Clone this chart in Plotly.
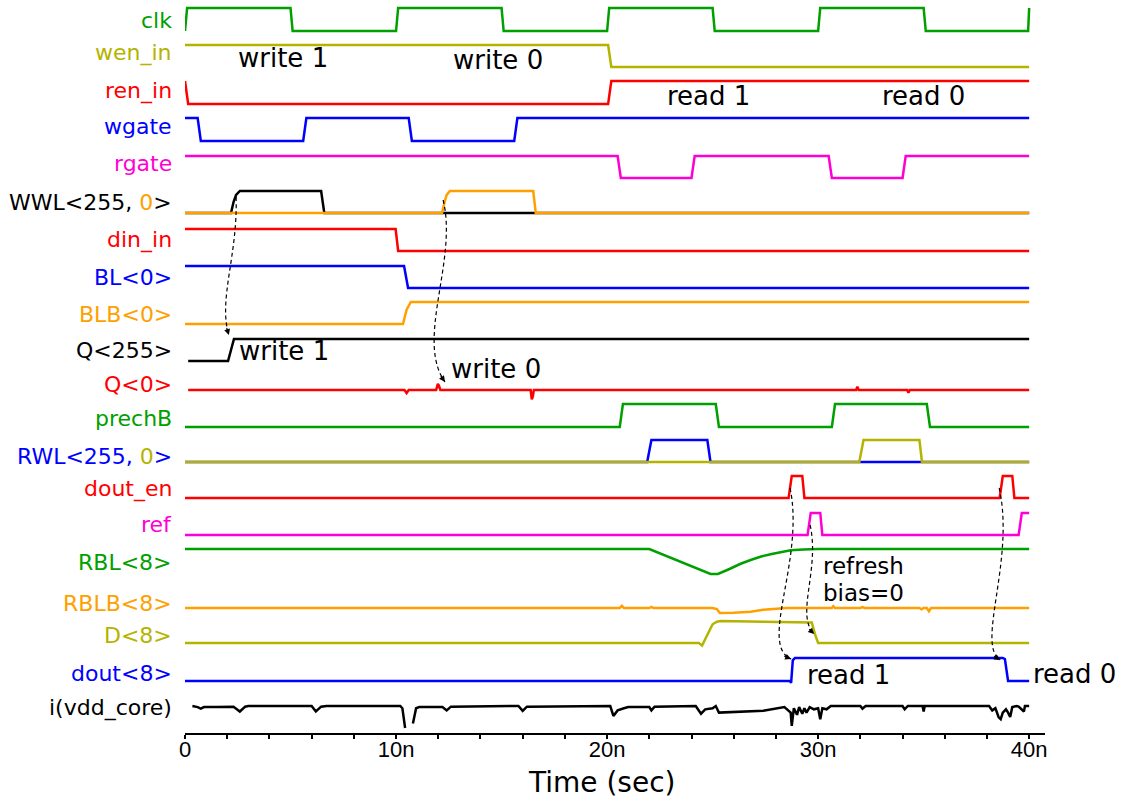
import plotly.graph_objects as go

# ---------------- data (time in ns, level: 0 = low, 1 = high) ----------------
clk = [(0, 0), (0.1, 1), (5.0, 1), (5.1, 0), (10.0, 0), (10.1, 1), (15.0, 1), (15.1, 0),
       (20.0, 0), (20.1, 1), (25.0, 1), (25.1, 0), (30.0, 0), (30.1, 1), (35.0, 1),
       (35.1, 0), (39.95, 0), (40.0, 1)]
wen_in = [(0, 1), (20.05, 1), (20.2, 0), (40, 0)]
ren_in = [(0, 1), (0.15, 0), (20.05, 0), (20.2, 1), (40, 1)]
wgate = [(0, 1), (0.6, 1), (0.75, 0), (5.6, 0), (5.75, 1), (10.6, 1), (10.75, 0),
         (15.6, 0), (15.75, 1), (40, 1)]
rgate = [(0, 1), (20.5, 1), (20.65, 0), (24.0, 0), (24.15, 1), (30.5, 1), (30.65, 0),
         (34.0, 0), (34.15, 1), (40, 1)]
wwl_255 = [(0, 0), (2.18, 0), (2.3, 0.5), (2.42, 0.82), (2.6, 1), (6.45, 1), (6.6, 0), (40, 0)]
wwl_0 = [(0, 0), (12.18, 0), (12.3, 0.5), (12.4, 0.82), (12.55, 1), (16.5, 1), (16.62, 0), (40, 0)]
din_in = [(0, 1), (9.98, 1), (10.1, 0), (40, 0)]
bl_0 = [(0, 1), (10.38, 1), (10.57, 0), (40, 0)]
blb_0 = [(0, 0), (10.33, 0), (10.5, 0.65), (10.7, 1), (40, 1)]
q_255 = [(0.15, 0), (2.04, 0), (2.18, 0.5), (2.32, 1), (40, 1)]
q_0 = [(0.15, 0), (10.4, 0), (10.5, -0.14), (10.6, 0), (11.9, 0), (11.98, 0.28), (12.03, 0.2),
       (12.1, 0), (16.38, 0), (16.43, -0.42), (16.48, -0.3), (16.53, 0), (31.8, 0),
       (31.86, 0.15), (31.92, 0), (34.22, 0), (34.28, -0.12), (34.34, 0), (40, 0)]
prechb = [(0, 0), (20.6, 0), (20.75, 1), (25.15, 1), (25.3, 0), (30.65, 0), (30.8, 1),
          (35.15, 1), (35.3, 0), (40, 0)]
rwl_255 = [(0, 0), (21.9, 0), (22.1, 1), (24.75, 1), (24.9, 0), (40, 0)]
rwl_0 = [(0, 0), (31.95, 0), (32.15, 1), (34.8, 1), (34.92, 0), (40, 0)]
dout_en = [(0, 0), (28.6, 0), (28.75, 1), (29.25, 1), (29.35, 0), (38.6, 0), (38.75, 1),
           (39.2, 1), (39.3, 0), (40, 0)]
ref = [(0, 0), (29.5, 0), (29.65, 1), (30.1, 1), (30.2, 0), (39.5, 0), (39.65, 1), (40, 1)]
rbl_8 = [(0, 1), (22.0, 1), (24.9, 0), (25.25, 0), (25.8, 0.2), (26.3, 0.4), (26.8, 0.56),
         (27.3, 0.7), (27.8, 0.8), (28.2, 0.88), (28.7, 0.95), (29.3, 0.98), (30.0, 1), (40, 1)]
rblb_8 = [(0, 0), (20.6, 0), (20.7, 0.1), (20.8, 0), (22.0, 0), (22.1, 0.05), (22.2, 0),
          (24.85, 0), (24.9, 0.03), (25.0, 0), (25.2, -0.05), (25.35, -0.23), (26.0, -0.22),
          (26.8, -0.17), (27.4, -0.08), (28.0, -0.02), (28.5, 0), (30.65, 0), (30.72, 0.08),
          (30.8, 0), (32.0, 0), (32.1, 0.04), (32.2, 0), (34.8, 0), (34.9, -0.06), (35.0, 0),
          (35.15, 0), (35.25, -0.15), (35.35, 0), (40, 0)]
d_8 = [(0, 0), (24.35, 0), (24.5, -0.12), (24.75, 0.4), (25.0, 0.85), (25.2, 0.97),
       (25.4, 1.0), (29.7, 0.93), (29.85, 0.4), (30.0, 0), (40, 0)]
dout_8 = [(0, 0), (28.65, 0), (28.72, -0.08), (28.8, 0.9), (28.9, 1), (38.75, 1),
          (38.85, 0.95), (39.0, 0), (40, 0)]
i_vdd = [(0.35, 0), (0.6, -0.05), (0.75, -0.12), (0.9, -0.05), (1.5, -0.05), (2.3, -0.03),
         (2.6, -0.25), (2.85, -0.03), (3.0, 0), (6.0, 0), (6.2, -0.25), (6.45, -0.03),
         (6.7, 0), (10.2, 0), (10.3, -0.1), (10.43, -1.0), (10.6, None), (10.8, -0.8),
         (10.95, -0.1), (11.1, -0.05), (12.2, -0.05), (12.4, -0.2), (12.6, -0.03),
         (15.8, 0), (16.0, -0.22), (16.2, -0.03), (20.15, 0), (20.3, -0.45), (20.5, -0.2),
         (20.8, -0.1), (21.0, -0.05), (22.0, -0.05), (22.1, -0.2), (22.25, -0.03), (24.2, 0),
         (24.45, -0.35), (24.65, -0.15), (25.0, -0.1), (25.15, 0), (25.3, -0.3),
         (27.4, -0.22), (28.4, -0.05), (28.7, -0.3), (28.75, -0.9), (28.85, -0.1),
         (29.0, -0.4), (29.1, -0.05), (29.25, -0.35), (29.35, -0.1), (29.45, -0.3),
         (29.6, -0.05), (29.8, -0.15), (30.0, -0.1), (30.1, -0.6), (30.2, -0.1),
         (30.4, -0.15), (30.6, 0), (32.0, 0), (32.1, -0.12), (32.25, 0), (34.0, 0),
         (34.1, -0.15), (34.25, 0), (34.95, 0), (35.0, -0.25), (35.05, 0), (38.1, 0),
         (38.25, -0.2), (38.4, -0.1), (38.55, -0.5), (38.65, -0.6), (38.75, -0.3),
         (38.9, -0.15), (39.0, -0.3), (39.1, -0.5), (39.2, -0.05), (39.4, 0), (39.5, -0.03),
         (39.75, -0.25), (39.8, 0), (40.0, 0)]

tick_vals = [0, 10, 20, 30, 40]
tick_text = ["0", "10n", "20n", "30n", "40n"]

# ---------------- styles / layout ----------------
GREEN = "#00a000"
OLIVE = "#b4b400"
RED = "#ff0000"
BLUE = "#0000ff"
MAGENTA = "#ff00d4"
ORANGE = "#ffa000"
BLACK = "#000000"

# lane: (row of level 0 in the y scale, rows per unit level)
lanes = {
    "clk": (31, 23), "wen_in": (67, 22), "ren_in": (104, 23), "wgate": (141, 23),
    "rgate": (178, 22), "WWL": (213, 22), "din_in": (251, 22), "BL": (288, 22),
    "BLB": (324, 22), "Q255": (361, 22), "Q0": (390, 22), "prechB": (427, 23),
    "RWL": (462, 22), "dout_en": (498, 22), "ref": (535, 22), "RBL": (574, 25),
    "RBLB": (608, 22), "D": (643, 22), "dout": (681, 23), "ivdd": (706, 22),
}

traces = [
    (clk, "clk", GREEN), (wen_in, "wen_in", OLIVE), (ren_in, "ren_in", RED),
    (wgate, "wgate", BLUE), (rgate, "rgate", MAGENTA),
    (wwl_255, "WWL", BLACK), (wwl_0, "WWL", ORANGE),
    (din_in, "din_in", RED), (bl_0, "BL", BLUE), (blb_0, "BLB", ORANGE),
    (q_255, "Q255", BLACK), (q_0, "Q0", RED), (prechb, "prechB", GREEN),
    (rwl_255, "RWL", BLUE), (rwl_0, "RWL", OLIVE), (dout_en, "dout_en", RED),
    (ref, "ref", MAGENTA), (rbl_8, "RBL", GREEN), (rblb_8, "RBLB", ORANGE),
    (d_8, "D", OLIVE), (dout_8, "dout", BLUE), (i_vdd, "ivdd", BLACK),
]

labels = [
    ("clk", GREEN, 20), ("wen_in", OLIVE, 53), ("ren_in", RED, 91), ("wgate", BLUE, 126),
    ("rgate", MAGENTA, 163),
    ("WWL&lt;255, <span style='color:%s'>0</span>&gt;" % ORANGE, BLACK, 202),
    ("din_in", RED, 240), ("BL&lt;0&gt;", BLUE, 277), ("BLB&lt;0&gt;", ORANGE, 314),
    ("Q&lt;255&gt;", BLACK, 350), ("Q&lt;0&gt;", RED, 384), ("prechB", GREEN, 418),
    ("RWL&lt;255, <span style='color:%s'>0</span>&gt;" % OLIVE, BLUE, 456),
    ("dout_en", RED, 489), ("ref", MAGENTA, 524), ("RBL&lt;8&gt;", GREEN, 562),
    ("RBLB&lt;8&gt;", ORANGE, 603), ("D&lt;8&gt;", OLIVE, 635), ("dout&lt;8&gt;", BLUE, 673),
    ("i(vdd_core)", BLACK, 708),
]

notes = [  # text, x (ns), row, anchor
    ("write 1", 4.65, 58, "center"), ("write 0", 14.85, 60, "center"),
    ("read 1", 24.8, 96, "center"), ("read 0", 35.0, 96, "center"),
    ("write 1", 2.45, 351, "left"), ("write 0", 12.5, 369, "left"),
    ("read 1", 29.4, 675, "left"), ("read 0", 40.1, 674, "left"),
]
small_notes = [("refresh", 30.15, 566), ("bias=0", 30.15, 593)]

# dashed causal arrows: cubic curves (ns, row)
arrows = [
    [(2.42, 197), (2.51, 255), (1.56, 300), (2.08, 335)],
    [(12.23, 200), (12.94, 260), (10.9, 340), (12.32, 382)],
    [(28.67, 488), (29.38, 560), (27.16, 645), (28.72, 659)],
    [(29.62, 525), (30.09, 570), (28.91, 615), (29.81, 634)],
    [(38.58, 488), (39.34, 560), (37.46, 645), (38.63, 660)],
]

fig = go.Figure()
for pts, lane, color in traces:
    base, amp = lanes[lane]
    xs = [p[0] for p in pts]
    ys = [None if p[1] is None else base - p[1] * amp for p in pts]
    fig.add_trace(go.Scatter(x=xs, y=ys, mode="lines", connectgaps=False,
                             line=dict(color=color, width=2.5), hoverinfo="skip",
                             showlegend=False))

annotations = []
for text, color, row in labels:
    annotations.append(dict(text=text, x=-0.0128, xref="paper", y=row, yref="y",
                            xanchor="right", yanchor="middle", showarrow=False,
                            font=dict(family="DejaVu Sans", size=22, color=color)))
for text, x, row, anchor in notes:
    annotations.append(dict(text=text, x=x, y=row, xref="x", yref="y", xanchor=anchor,
                            yanchor="middle", showarrow=False,
                            font=dict(family="DejaVu Sans", size=26, color=BLACK)))
for text, x, row in small_notes:
    annotations.append(dict(text=text, x=x, y=row, xref="x", yref="y", xanchor="left",
                            yanchor="middle", showarrow=False,
                            font=dict(family="DejaVu Sans", size=23, color=BLACK)))
annotations.append(dict(text="Time (sec)", x=0.484, y=-0.068, xref="paper", yref="paper",
                        xanchor="center", yanchor="middle", showarrow=False,
                        font=dict(family="DejaVu Sans", size=28, color=BLACK)))

shapes = []
for c in arrows:
    (x0, y0), (x1, y1), (x2, y2), (x3, y3) = c
    shapes.append(dict(type="path", xref="x", yref="y",
                       path=f"M {x0},{y0} C {x1},{y1} {x2},{y2} {x3},{y3}",
                       line=dict(color=BLACK, width=1.2, dash="4px,3px")))
    dx, dy = x3 - x2, y3 - y2
    px, py = dx * 21.1, dy
    n = (px ** 2 + py ** 2) ** 0.5
    annotations.append(dict(x=x3, y=y3, xref="x", yref="y", text="", showarrow=True,
                            ax=-px / n * 9, ay=-py / n * 9, arrowhead=2, arrowsize=1,
                            arrowwidth=1.2, arrowcolor=BLACK, standoff=0))

fig.update_layout(
    width=1122, height=803, margin=dict(l=185, r=77, t=0, b=70),
    paper_bgcolor="white", plot_bgcolor="white",
    xaxis=dict(range=[0, 40.75], showgrid=False, zeroline=False, showline=True,
               linecolor=BLACK, linewidth=2, ticks="outside", ticklen=4, tickwidth=1.5,
               tickcolor=BLACK, tickvals=tick_vals, ticktext=tick_text,
               ticklabelstandoff=-8,
               tickfont=dict(family="Liberation Sans", size=22, color=BLACK),
               minor=dict(dtick=2, tick0=0, ticks="outside", ticklen=4, tickwidth=1.5,
                          tickcolor=BLACK, showgrid=False)),
    yaxis=dict(range=[733, 0], visible=False, showgrid=False, zeroline=False),
    annotations=annotations, shapes=shapes,
)

fig.write_html("out.html")
